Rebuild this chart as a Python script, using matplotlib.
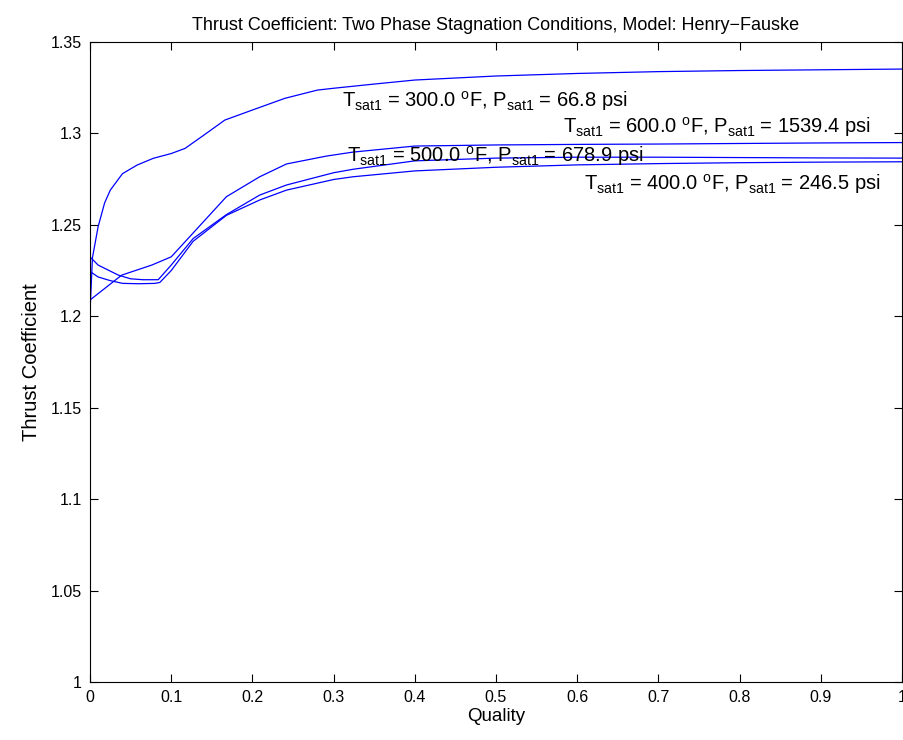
import matplotlib
matplotlib.use("Agg")
import matplotlib.pyplot as plt

plt.rcParams['font.family'] = ['Liberation Sans', 'DejaVu Sans']
plt.rcParams['mathtext.fontset'] = 'custom'
plt.rcParams['mathtext.rm'] = 'Liberation Sans'
plt.rcParams['mathtext.it'] = 'Liberation Sans:italic'
plt.rcParams['mathtext.bf'] = 'Liberation Sans:bold'

# ---- data ----
x_300 = [0, 0.003, 0.01, 0.018, 0.025, 0.04, 0.058, 0.078, 0.1, 0.117, 0.14, 0.166, 0.2,
         0.24, 0.28, 0.3, 0.35, 0.4, 0.5, 0.6, 0.7, 0.8, 0.9, 1.0]
y_300 = [1.202, 1.232, 1.249, 1.262, 1.269, 1.278, 1.2827, 1.2864, 1.289, 1.2918, 1.299,
         1.3073, 1.3128, 1.3192, 1.3237, 1.3247, 1.327, 1.3292, 1.3314, 1.3328,
         1.3338, 1.3344, 1.3348, 1.3352]

x_600 = [0, 0.039, 0.076, 0.1, 0.13, 0.168, 0.209, 0.242, 0.291, 0.324, 0.4, 0.5,
         0.6, 0.7, 0.8, 0.9, 1.0]
y_600 = [1.2089, 1.2225, 1.228, 1.2325, 1.247, 1.2654, 1.2763, 1.2833, 1.2876,
         1.2898, 1.2931, 1.2937, 1.294, 1.2942, 1.2945, 1.2948, 1.295]

x_500 = [0, 0.01, 0.035, 0.05, 0.065, 0.084, 0.1, 0.127, 0.168, 0.209, 0.242, 0.3,
         0.324, 0.4, 0.5, 0.6, 0.7, 0.8, 0.9, 1.0]
y_500 = [1.2325, 1.228, 1.2225, 1.2205, 1.2200, 1.2200, 1.228, 1.2425, 1.2556,
         1.2663, 1.2718, 1.2785, 1.2804, 1.285, 1.2865, 1.287, 1.287, 1.2868,
         1.2866, 1.2865]

x_400 = [0, 0.01, 0.025, 0.04, 0.06, 0.08, 0.086, 0.1, 0.127, 0.168, 0.209, 0.242,
         0.3, 0.324, 0.4, 0.5, 0.6, 0.7, 0.8, 0.9, 1.0]
y_400 = [1.2245, 1.2215, 1.2195, 1.218, 1.2178, 1.218, 1.2185, 1.225, 1.241,
         1.2552, 1.2636, 1.269, 1.2748, 1.2763, 1.2795, 1.2815, 1.2828, 1.2835,
         1.284, 1.2843, 1.2845]

label_texts = [
    r'T$_{\mathrm{sat1}}$ = 300.0 $^{\mathrm{o}}$F, P$_{\mathrm{sat1}}$ = 66.8 psi',
    r'T$_{\mathrm{sat1}}$ = 600.0 $^{\mathrm{o}}$F, P$_{\mathrm{sat1}}$ = 1539.4 psi',
    r'T$_{\mathrm{sat1}}$ = 500.0 $^{\mathrm{o}}$F, P$_{\mathrm{sat1}}$ = 678.9 psi',
    r'T$_{\mathrm{sat1}}$ = 400.0 $^{\mathrm{o}}$F, P$_{\mathrm{sat1}}$ = 246.5 psi',
]
label_x = [0.310, 0.583, 0.316, 0.608]
label_y = [1.3144, 1.3002, 1.2844, 1.2690]

xticks = [0, 0.1, 0.2, 0.3, 0.4, 0.5, 0.6, 0.7, 0.8, 0.9, 1.0]
xtick_labels = ['0', '0.1', '0.2', '0.3', '0.4', '0.5', '0.6', '0.7', '0.8', '0.9', '1']
yticks = [1.0, 1.05, 1.1, 1.15, 1.2, 1.25, 1.3, 1.35]
ytick_labels = ['1', '1.05', '1.1', '1.15', '1.2', '1.25', '1.3', '1.35']

# ---- figure ----
fig = plt.figure(figsize=(9.04, 7.4), dpi=100)
ax = fig.add_axes([90 / 904, 58 / 740, 812 / 904, 640 / 740])

for xs, ys in [(x_300, y_300), (x_600, y_600), (x_500, y_500), (x_400, y_400)]:
    ax.plot(xs, ys, color=(0, 0, 1), linewidth=0.9)

for t, lx, ly in zip(label_texts, label_x, label_y):
    ax.text(lx, ly, t, fontsize=14.5, ha='left', va='baseline', color='black')

ax.set_xlim(0, 1)
ax.set_ylim(1, 1.35)
ax.set_xticks(xticks)
ax.set_xticklabels(xtick_labels)
ax.set_yticks(yticks)
ax.set_yticklabels(ytick_labels)
ax.tick_params(direction='in', length=6, width=0.8, top=True, right=True,
               labelsize=11.5, pad=6)
for s in ax.spines.values():
    s.set_linewidth(0.8)

ax.set_title('Thrust Coefficient: Two Phase Stagnation Conditions, Model: Henry\u2212Fauske',
             fontsize=13, pad=9)
ax.set_xlabel('Quality', fontsize=13.5, labelpad=2)
ax.set_ylabel('Thrust Coefficient', fontsize=14.5, labelpad=7)

fig.savefig('out.png', dpi=100)
